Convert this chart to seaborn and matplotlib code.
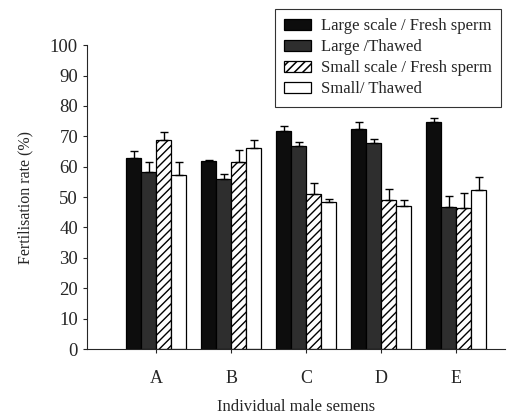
import numpy as np
import pandas as pd
import matplotlib.pyplot as plt
import seaborn as sns

# fertilisation rate (%) per male
males = ["A", "B", "C", "D", "E"]
groups = ["Large scale / Fresh sperm", "Large /Thawed",
          "Small scale / Fresh sperm", "Small/ Thawed"]
large_fresh = [63.0, 61.8, 71.9, 72.5, 74.6]
large_thawed = [58.1, 55.8, 66.8, 67.9, 46.8]
small_fresh = [68.9, 61.6, 51.0, 49.2, 46.4]
small_thawed = [57.4, 66.1, 48.4, 47.0, 52.4]
err_large_fresh = [2.2, 0.5, 1.6, 2.2, 1.4]
err_large_thawed = [3.5, 1.8, 1.4, 1.3, 3.4]
err_small_fresh = [2.4, 3.8, 3.5, 3.3, 5.0]
err_small_thawed = [4.2, 2.6, 0.9, 2.1, 4.1]

values = [large_fresh, large_thawed, small_fresh, small_thawed]
errors = [err_large_fresh, err_large_thawed, err_small_fresh, err_small_thawed]

df = pd.DataFrame({
    "male": males * 4,
    "group": np.repeat(groups, len(males)),
    "rate": np.concatenate(values),
})

sns.set_style("ticks")
plt.rcParams["font.family"] = ["Liberation Serif", "DejaVu Serif"]

fig = plt.figure(figsize=(5.12, 4.18), dpi=100)
ax = fig.add_axes([0.17, 0.165, 0.816, 0.727])

colors = ["#0d0d0d", "#2e2e2e", "white", "white"]
sns.barplot(data=df, x="male", y="rate", hue="group", hue_order=groups,
            palette=colors, errorbar=None, edgecolor="black", linewidth=0.9,
            width=0.8, ax=ax)

plt.rcParams["hatch.linewidth"] = 1.1
for patch in ax.containers[2]:
    patch.set_hatch("////")

# one-sided error bars
for cont, err in zip(ax.containers, errors):
    xs = [p.get_x() + p.get_width() / 2 for p in cont]
    ys = [p.get_height() for p in cont]
    ax.errorbar(xs, ys, yerr=[np.zeros(len(err)), err], fmt="none",
                ecolor="black", elinewidth=1.0, capsize=3, capthick=1.0)

ax.legend_.remove()
leg = fig.legend(ax.containers, groups, loc="upper right",
                 bbox_to_anchor=(0.995, 0.998), frameon=True, fancybox=False,
                 edgecolor="black", fontsize=12, handlelength=1.6,
                 handleheight=0.7, handletextpad=0.6, labelspacing=0.3,
                 borderpad=0.55)
leg.get_frame().set_linewidth(0.8)

ax.set_ylim(0, 100)
ax.set_xlim(-0.92, 4.65)
ax.set_yticks(range(0, 101, 10))
ax.tick_params(axis="y", labelsize=13.5, length=3, width=0.8)
ax.tick_params(axis="x", labelsize=13, length=3, width=0.8, pad=12)
ax.set_xlabel("Individual male semens", fontsize=12, labelpad=9)
ax.set_ylabel("Fertilisation rate (%)", fontsize=11.5, labelpad=12)
sns.despine(ax=ax)
for s in ["left", "bottom"]:
    ax.spines[s].set_linewidth(0.8)

fig.savefig("out.png", dpi=100)
